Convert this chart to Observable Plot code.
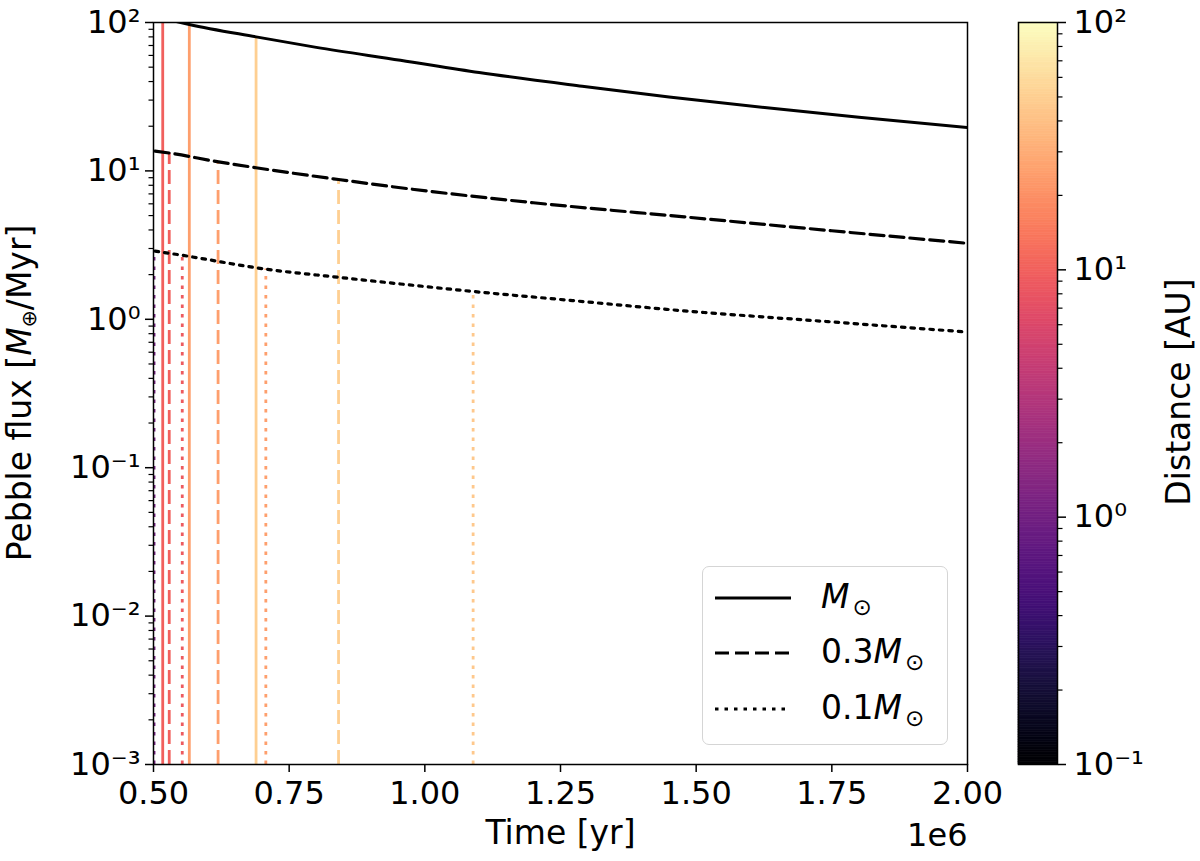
<!DOCTYPE html>
<html>
<head>
<meta charset="utf-8">
<script src="https://cdn.jsdelivr.net/npm/d3@7"></script>
<script src="https://cdn.jsdelivr.net/npm/@observablehq/plot@0.6"></script>
<style>
  body { margin: 0; background: #fff; font-family: "DejaVu Sans", sans-serif; }
  #wrap { position: relative; width: 1200px; height: 861px; overflow: hidden; background: #fff; }
  #chart { position: absolute; left: 0; top: 0; }
  #bar { position: absolute; left: 1000px; top: 0; }
  .vlab { position: absolute; white-space: nowrap; font-size: 33px; transform: translate(-50%, -50%) rotate(-90deg); line-height: 1; }
  .vlab sub { font-size: 62%; vertical-align: -0.25em; }
  .leg sub { font-size: 70%; vertical-align: -0.3em; margin-left: 3px; }
  #legend { position: absolute; left: 702px; top: 566px; width: 246px; height: 179px; box-sizing: border-box;
            border: 1.5px solid #d5d5d5; border-radius: 7px; background: rgba(255,255,255,0.85); }
  .leg { position: absolute; left: 118px; font-size: 33px; line-height: 1; white-space: nowrap; }
  .legline { position: absolute; left: 10px; }
</style>
</head>
<body>
<div id="wrap">
  <div id="chart"></div>
  <div id="bar"></div>
  <div class="vlab" style="left:21px; top:393px;">Pebble flux [<i>M</i><sub>⊕</sub>/Myr]</div>
  <div class="vlab" style="left:1178px; top:392px;">Distance [AU]</div>
  <div id="legend"></div>
</div>
<script>
// curves: time [yr] and pebble flux [M_earth/Myr]
const tSolid = [0.52e6, 0.55e6, 0.566e6, 0.689e6, 0.80e6, 0.955e6, 1.10e6, 1.29e6, 1.45e6, 1.626e6, 1.80e6, 2.0e6];
const fSolid = [106, 100, 97, 80, 68, 55.7, 46, 37.2, 31.5, 26.7, 23, 19.6];

const tDash = [0.503e6, 0.529e6, 0.62e6, 0.689e6, 0.841e6, 0.955e6, 1.2e6, 1.478e6, 1.75e6, 2.0e6];
const fDash = [13.6, 13.2, 11.5, 10.5, 8.75, 7.7, 6.1, 4.9, 3.95, 3.25];

const tDot = [0.503e6, 0.553e6, 0.706e6, 0.84e6, 0.955e6, 1.089e6, 1.25e6, 1.478e6, 1.75e6, 2.0e6];
const fDot = [2.88, 2.70, 2.18, 1.92, 1.73, 1.54, 1.36, 1.14, 0.96, 0.82];

// vertical lines: time, top value, distance [AU]
const solidRuleT = [0.517e6, 0.566e6, 0.689e6];
const solidRuleTop = [106, 97, 80];
const solidRuleDist = [10, 25, 50];

const dashRuleT = [0.529e6, 0.619e6, 0.841e6];
const dashRuleTop = [13.2, 11.5, 8.75];
const dashRuleDist = [10, 25, 50];

const dotRuleT = [0.501e6, 0.553e6, 0.707e6, 1.089e6];
const dotRuleTop = [2.88, 2.70, 2.18, 1.54];
const dotRuleDist = [1.1, 9, 25, 45];

// axes
const xTicks = [0.5e6, 0.75e6, 1.0e6, 1.25e6, 1.5e6, 1.75e6, 2.0e6];
const yTicks = [1e-3, 1e-2, 1e-1, 1, 10, 100];
const barTicks = [0.1, 1, 10, 100];

const toPts = (ts, fs) => ts.map((t, i) => ({t, f: fs[i]}));
const toRules = (ts, tops, ds) => ts.map((t, i) => ({t, top: tops[i], dist: ds[i]}));

const solid = toPts(tSolid, fSolid);
const dash = toPts(tDash, fDash);
const dot = toPts(tDot, fDot);
const solidRules = toRules(solidRuleT, solidRuleTop, solidRuleDist);
const dashRules = toRules(dashRuleT, dashRuleTop, dashRuleDist);
const dotRules = toRules(dotRuleT, dotRuleTop, dotRuleDist);

const sup = {"-": "⁻", "0": "⁰", "1": "¹", "2": "²", "3": "³", "4": "⁴", "5": "⁵", "6": "⁶", "7": "⁷", "8": "⁸", "9": "⁹"};
const pow = d => "10" + String(Math.round(Math.log10(d))).split("").map(c => sup[c]).join("");
const minorOf = (lo, hi) => {
  const out = [];
  for (let e = lo; e < hi; e++) for (let k = 2; k <= 9; k++) out.push(k * 10 ** e);
  return out;
};

const colorOpts = {type: "log", scheme: "magma", domain: [0.1, 100]};
const DASH = "14,6", DOT = "3.5,6";

let chart = Plot.plot({
  width: 1200,
  height: 861,
  marginLeft: 153,
  marginRight: 233,
  marginTop: 22,
  marginBottom: 97,
  x: {domain: [0.5e6, 2.0e6]},
  y: {type: "log", domain: [1e-3, 100]},
  color: colorOpts,
  style: {fontFamily: "DejaVu Sans", fontSize: "32px", color: "black", background: "transparent"},
  marks: [
    Plot.ruleX(solidRules, {x: "t", y1: 1e-3, y2: "top", stroke: "dist", strokeWidth: 2.8, clip: true}),
    Plot.ruleX(dashRules, {x: "t", y1: 1e-3, y2: "top", stroke: "dist", strokeWidth: 2.8, strokeDasharray: DASH, clip: true}),
    Plot.ruleX(dotRules, {x: "t", y1: 1e-3, y2: "top", stroke: "dist", strokeWidth: 2.8, strokeDasharray: DOT, clip: true}),
    Plot.line(solid, {x: "t", y: "f", stroke: "black", strokeWidth: 3, curve: "monotone-x", clip: true}),
    Plot.line(dash, {x: "t", y: "f", stroke: "black", strokeWidth: 3.2, strokeDasharray: DASH, curve: "monotone-x", clip: true}),
    Plot.line(dot, {x: "t", y: "f", stroke: "black", strokeWidth: 3.2, strokeDasharray: DOT, curve: "monotone-x", clip: true}),
    Plot.axisX({ticks: xTicks, tickFormat: d => (d / 1e6).toFixed(2), tickSize: 8, tickPadding: 9, strokeWidth: 1.5, label: null}),
    Plot.axisY({ticks: yTicks, tickFormat: pow, tickSize: 8, tickPadding: 5, strokeWidth: 1.5, label: null}),
    Plot.axisY({ticks: minorOf(-3, 2), tickFormat: () => "", tickSize: 4.5, strokeWidth: 1.2, label: null}),
    Plot.frame({stroke: "black", strokeWidth: 1.5}),
    Plot.text(["Time [yr]"], {frameAnchor: "bottom", lineAnchor: "middle", dy: 69, fontSize: 33}),
    Plot.text(["1e6"], {frameAnchor: "bottom-right", lineAnchor: "middle", dy: 71, textAnchor: "end", fontSize: 32})
  ]
});
d3.select("#chart").append(() => chart);

// colorbar
const stops = d3.range(300).map(i => ({lo: 10 ** (-1 + 3 * i / 300), hi: 10 ** (-1 + 3 * (i + 1) / 300)}));
let bar = Plot.plot({
  width: 200,
  height: 861,
  marginLeft: 18,
  marginRight: 143,
  marginTop: 22,
  marginBottom: 97,
  x: {domain: [0, 1], axis: null},
  y: {type: "log", domain: [0.1, 100]},
  color: colorOpts,
  style: {fontFamily: "DejaVu Sans", fontSize: "32px", color: "black", background: "transparent"},
  marks: [
    Plot.rect(stops, {x1: 0, x2: 1, y1: "lo", y2: "hi", fill: d => Math.sqrt(d.lo * d.hi), stroke: d => Math.sqrt(d.lo * d.hi), strokeWidth: 0.6}),
    Plot.axisY({anchor: "right", ticks: barTicks, tickFormat: pow, tickSize: 8, tickPadding: 8, strokeWidth: 1.5, label: null}),
    Plot.axisY({anchor: "right", ticks: minorOf(-1, 2), tickFormat: () => "", tickSize: 4.5, strokeWidth: 1.2, label: null}),
    Plot.frame({stroke: "black", strokeWidth: 1.5})
  ]
});
d3.select("#bar").append(() => bar);

// legend
const legend = d3.select("#legend");
const legItems = [
  {dash: null, html: "<i>M</i><sub>⊙</sub>", y: 31},
  {dash: DASH, html: "0.3<i>M</i><sub>⊙</sub>", y: 86},
  {dash: DOT, html: "0.1<i>M</i><sub>⊙</sub>", y: 142}
];
legItems.forEach(it => {
  const svg = legend.append("svg").attr("class", "legline").attr("width", 80).attr("height", 10)
    .style("top", (it.y - 5) + "px");
  svg.append("line").attr("x1", 2).attr("x2", 78).attr("y1", 5).attr("y2", 5)
    .attr("stroke", "black").attr("stroke-width", 3).attr("stroke-dasharray", it.dash);
  legend.append("div").attr("class", "leg").style("top", (it.y - 18) + "px").html(it.html);
});
</script>
</body>
</html>
